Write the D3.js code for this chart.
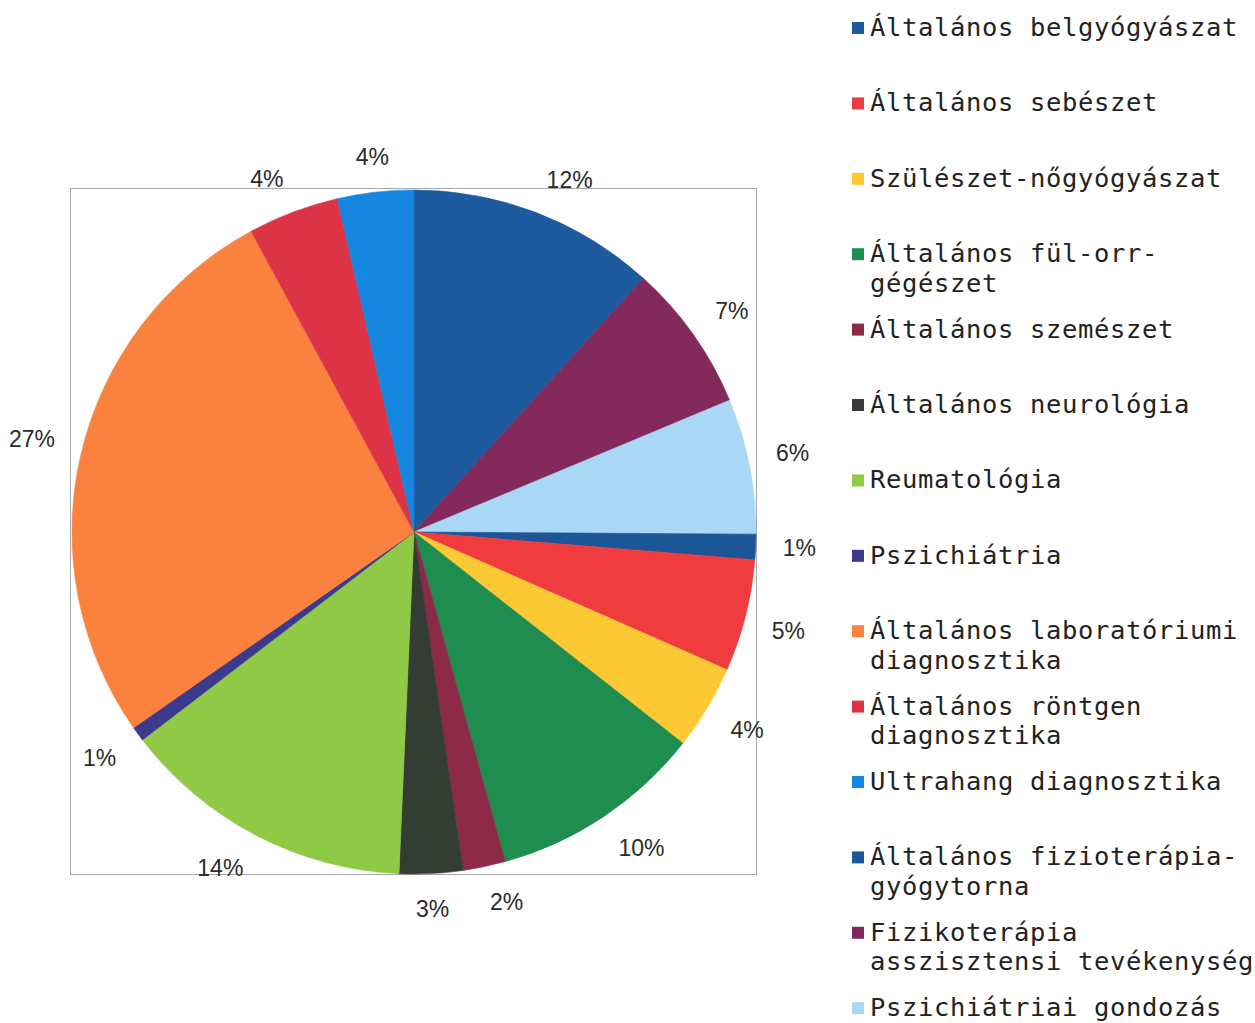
<!DOCTYPE html>
<html><head><meta charset="utf-8">
<script src="https://cdn.jsdelivr.net/npm/d3@7"></script>
<style>body{margin:0;background:#fff}svg{display:block}</style>
</head><body>
<svg id="chart" width="1255" height="1023"></svg>
<script>
// Legend order
const categories = [
  "Általános belgyógyászat",
  "Általános sebészet",
  "Szülészet-nőgyógyászat",
  "Általános fül-orr-gégészet",
  "Általános szemészet",
  "Általános neurológia",
  "Reumatológia",
  "Pszichiátria",
  "Általános laboratóriumi diagnosztika",
  "Általános röntgen diagnosztika",
  "Ultrahang diagnosztika",
  "Általános fizioterápia-gyógytorna",
  "Fizikoterápia asszisztensi tevékenység",
  "Pszichiátriai gondozás"
];
const values = [11.7, 5.3, 4.0, 10.1, 2.0, 3.0, 13.9, 0.7, 26.8, 4.3, 3.6, 1.2, 7.0, 6.4];
const colors = ["#1e5a9e", "#f03c3e", "#fcc934", "#1f8c50", "#8c2a48", "#343d34", "#8fc946",
                "#3b3a8c", "#fa823e", "#dc3446", "#1686de", "#1c5697", "#84295b", "#a9d7f6"];
// Order of slices clockwise from 12 o'clock (indices into the arrays above)
const sliceOrder = [0, 12, 13, 11, 1, 2, 3, 4, 5, 6, 7, 8, 9, 10];

const svg = d3.select("#chart");
const cx = 414, cy = 532, r = 342;

// plot frame
svg.append("rect")
  .attr("x", cx - r - 1.5).attr("y", cy - r - 1.5)
  .attr("width", 2 * r + 2).attr("height", 2 * r + 2)
  .attr("fill", "none").attr("stroke", "#a8a8ae").attr("stroke-width", 1);

const pieData = sliceOrder.map(i => ({ name: categories[i], value: values[i], color: colors[i] }));
const pie = d3.pie().sort(null).value(d => d.value);
const arcs = pie(pieData);
const arc = d3.arc().innerRadius(0).outerRadius(r);

const g = svg.append("g").attr("transform", `translate(${cx},${cy})`);
g.selectAll("path.slice").data(arcs).enter().append("path")
  .attr("class", "slice")
  .attr("d", arc)
  .attr("fill", d => d.data.color)
  .attr("stroke", d => d.data.color)
  .attr("stroke-width", 0.6);

// percentage labels
const total = d3.sum(values);
const labelR = 369;
arcs.forEach(a => {
  const mid = (a.startAngle + a.endAngle) / 2;
  const s = Math.sin(mid), c = Math.cos(mid);
  const px = cx + labelR * s, py = cy - labelR * c;
  let anchor = "middle";
  if (s > 0.15) anchor = "start"; else if (s < -0.15) anchor = "end";
  let by;
  if (c > 0.1) by = py; else if (c < -0.1) by = py + 16.5; else by = py + 8;
  svg.append("text")
    .attr("x", px).attr("y", by)
    .attr("text-anchor", anchor)
    .attr("font-family", "'Liberation Sans', Arial, sans-serif")
    .attr("font-size", 23)
    .attr("fill", "#2b2b2b")
    .text(Math.round(a.data.value / total * 100) + "%");
});

// legend
function wrap(name, maxChars) {
  const pieces = [];
  name.split(" ").forEach(w => {
    const parts = w.split(/(?<=-)/);
    parts.forEach((p, k) => pieces.push({ t: p, joinNoSpace: k > 0 }));
  });
  const lines = [];
  let cur = "";
  pieces.forEach(p => {
    if (cur === "") { cur = p.t; return; }
    const sep = p.joinNoSpace ? "" : " ";
    if ((cur + sep + p.t).length <= maxChars) cur += sep + p.t;
    else { lines.push(cur); cur = p.t; }
  });
  if (cur) lines.push(cur);
  return lines;
}

const legY0 = 36, legStep = 75.4, lineH = 29.5;
const leg = svg.append("g");
categories.forEach((name, i) => {
  const by = legY0 + legStep * i;
  leg.append("rect")
    .attr("x", 852).attr("y", by - 14)
    .attr("width", 12).attr("height", 12)
    .attr("fill", colors[i]);
  const t = leg.append("text")
    .attr("font-family", "'DejaVu Sans Mono', monospace")
    .attr("font-size", 25.5)
    .attr("letter-spacing", 0.65)
    .attr("fill", "#222");
  wrap(name, 24).forEach((ln, k) => {
    t.append("tspan").attr("x", 870).attr("y", by + k * lineH).text(ln);
  });
});
</script>
</body></html>
